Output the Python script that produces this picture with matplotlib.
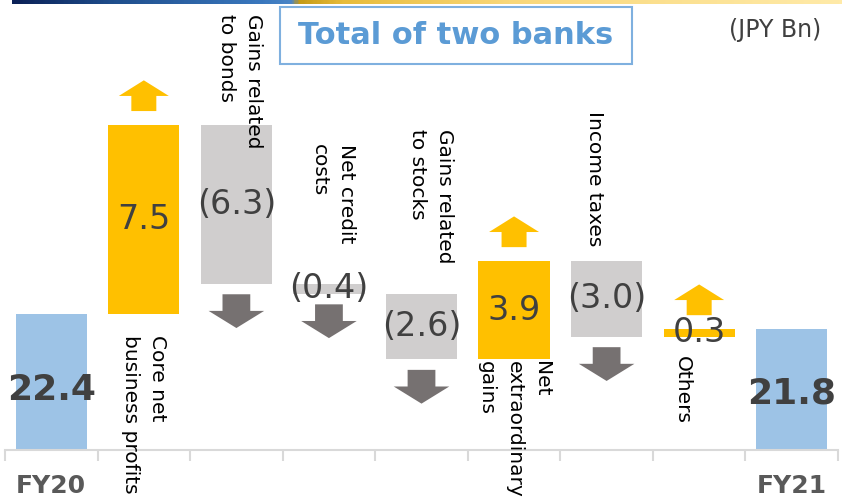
import numpy as np
import matplotlib.pyplot as plt
from matplotlib.patches import Polygon, Rectangle
from matplotlib.colors import LinearSegmentedColormap

plt.rcParams['font.family'] = ['DejaVu Sans']

# data
categories = ["FY20", "Core net\nbusiness profits", "Gains related\nto bonds", "Net credit\ncosts",
              "Gains related\nto stocks", "Net\nextraordinary\ngains", "Income taxes", "Others", "FY21"]
start_value = 22.4
changes = [7.5, -6.3, -0.4, -2.6, 3.9, -3.0, 0.3]
end_value = 21.8

# layout of the rotated category labels (top of text, in data units) and small x shifts
label_top = [None, 21.55, 34.3, 29.15, 29.75, 20.55, 30.45, 20.75, None]
label_dx = [0, 0.0, 0.04, 0.04, 0.1, 0.0, -0.13, -0.18, 0]

BLUE = "#9DC3E6"
YELLOW = "#FFC000"
GRAY = "#D0CECE"
DARK = "#767171"
TXT = "#404040"

fig = plt.figure(figsize=(8.42, 5.0), dpi=100)
ax = fig.add_axes([5 / 842, 50 / 500, 833 / 842, 450 / 500])
ax.set_xlim(-0.5, 8.5)
ax.set_ylim(17.0, 17.0 + 450 / 25.2)

x = np.arange(len(categories))
w = 0.77

# start / end bars
ax.bar(x[0], start_value - 17.0, bottom=17.0, width=w, color=BLUE, zorder=2)
ax.bar(x[-1], end_value - 17.0, bottom=17.0, width=w, color=BLUE, zorder=2)
ax.text(x[0], 19.4, f"{start_value:.1f}", ha="center", va="center", fontsize=26,
        fontweight="bold", color=TXT, zorder=5)
ax.text(x[-1], 19.25, f"{end_value:.1f}", ha="center", va="center", fontsize=26,
        fontweight="bold", color=TXT, zorder=5)


def arrow(xc, y0, up, color, hw, sw, hl, sl):
    # block arrow starting at y0 (near the bar) pointing up or down
    s = 1 if up else -1
    pts = [(xc - sw, y0), (xc + sw, y0), (xc + sw, y0 + s * sl), (xc + hw, y0 + s * sl),
           (xc, y0 + s * (sl + hl)), (xc - hw, y0 + s * sl), (xc - sw, y0 + s * sl)]
    ax.add_patch(Polygon(pts, closed=True, facecolor=color, edgecolor="none", zorder=3))


level = start_value
for i, chg in enumerate(changes):
    xi = x[i + 1]
    lo, hi = min(level, level + chg), max(level, level + chg)
    col = YELLOW if chg > 0 else GRAY
    ax.bar(xi, hi - lo, bottom=lo, width=w, color=col, zorder=2)
    lab = f"{chg:.1f}" if chg > 0 else f"({abs(chg):.1f})"
    ax.text(xi, (lo + hi) / 2, lab, ha="center", va="center", fontsize=24, color=TXT, zorder=5)
    if chg > 0:
        arrow(xi, hi + 0.55, True, YELLOW, 0.27, 0.135, 0.62, 0.6)
    else:
        arrow(xi, lo - 0.42, False, DARK, 0.3, 0.15, 0.68, 0.66)
    level += chg

for i in range(1, len(categories) - 1):
    ax.text(x[i] + label_dx[i], label_top[i], categories[i], rotation=270, ha="center",
            va="top", fontsize=14.5, color="black", linespacing=1.55,
            multialignment="left", zorder=6)

# axis styling
for s in ["top", "right", "left"]:
    ax.spines[s].set_visible(False)
ax.spines["bottom"].set_color("#D9D9D9")
ax.spines["bottom"].set_linewidth(1.5)
ax.set_yticks([])
ax.set_xticks(x)
ax.set_xticklabels(["FY20"] + [""] * 7 + ["FY21"], fontsize=18, fontweight="bold", color="#595959")
ax.tick_params(axis="x", which="major", length=0, pad=17)
ax.set_xticks(np.arange(-0.5, 9.0, 1.0), minor=True)
ax.tick_params(axis="x", which="minor", length=8, width=1.5, color="#D9D9D9")

# top decorative strip
strip = fig.add_axes([12 / 842, 1 - 4 / 500, 1 - 12 / 842, 4 / 500])
cmap = LinearSegmentedColormap.from_list(
    "strip", [(0, "#0B2157"), (0.12, "#1F4E8C"), (0.3, "#3A78BE"), (0.335, "#4A85C6"),
              (0.345, "#C49A16"), (0.4, "#E7BC3C"), (0.6, "#F8D77A"), (1.0, "#FFEAA8")])
strip.imshow(np.linspace(0, 1, 400)[None, :], aspect="auto", cmap=cmap)
strip.axis("off")

# title box
fig.patches.append(Rectangle((280 / 842, 1 - 64 / 500), 352 / 842, 57 / 500,
                             transform=fig.transFigure, facecolor="white",
                             edgecolor="#7FB0DF", linewidth=1.5, zorder=10))
fig.text(456 / 842, 1 - 36 / 500, "Total of two banks", ha="center", va="center",
         fontsize=22, fontweight="bold", color="#5B9BD5", zorder=11)
fig.text(775 / 842, 1 - 30 / 500, "(JPY Bn)", ha="center", va="center", fontsize=17, color=TXT)

fig.savefig("out.png", dpi=100)
